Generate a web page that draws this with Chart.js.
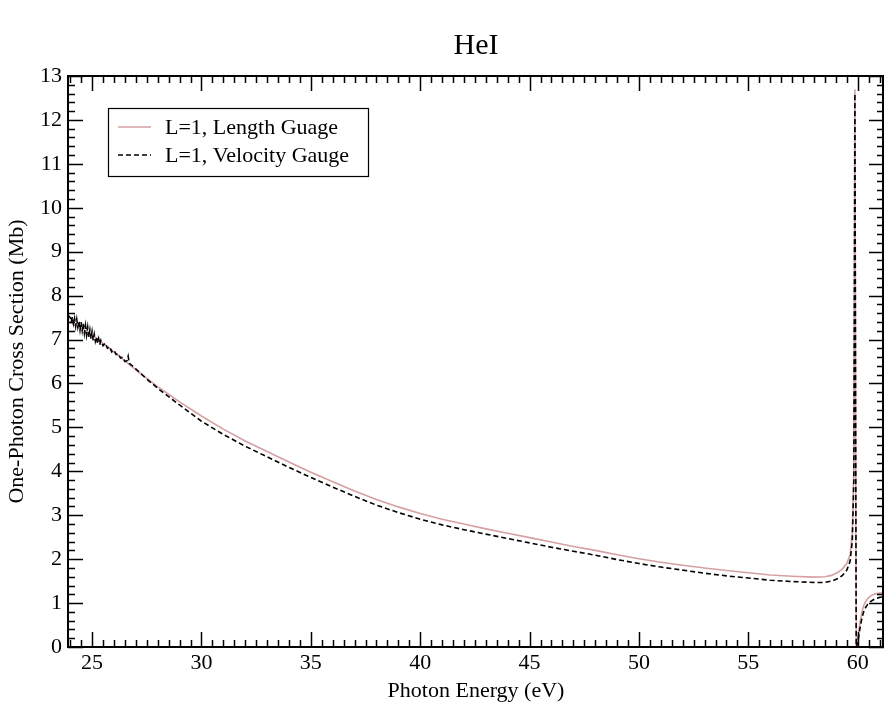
<!DOCTYPE html>
<html>
<head>
<meta charset="utf-8">
<script src="https://cdn.jsdelivr.net/npm/chart.js@4.4.1/dist/chart.umd.min.js"></script>
<style>
    body { margin: 0; background: #fff; }
</style>
</head>
<body>
<canvas id="myChart" width="884" height="704"></canvas>
<script>
// tick labels
const xTicks = [25, 30, 35, 40, 45, 50, 55, 60];
const yTicks = [0, 1, 2, 3, 4, 5, 6, 7, 8, 9, 10, 11, 12, 13];
const chartTitle = 'HeI';

// L=1, Length Guage
const lengthEnergy = [23.9, 24.5, 25, 26, 27, 28, 29, 30, 31, 32, 33, 34, 35, 36, 37, 38, 39, 40,
    41, 42, 43, 44, 45, 46, 47, 48, 49, 50, 51, 52, 53, 54, 55, 56, 57, 58, 58.5, 58.8, 59.1,
    59.3, 59.5, 59.65, 59.75, 59.82, 59.87, 59.9, 59.93, 60.0, 60.1, 60.2, 60.3, 60.45, 60.6,
    60.8, 61.0, 61.2];
const lengthSigma = [7.42, 7.26, 7.11, 6.72, 6.31, 5.93, 5.58, 5.26, 4.96, 4.69, 4.45, 4.21, 3.98,
    3.76, 3.55, 3.36, 3.19, 3.04, 2.91, 2.80, 2.69, 2.59, 2.49, 2.39, 2.29, 2.20, 2.10, 2.01,
    1.93, 1.86, 1.80, 1.74, 1.69, 1.64, 1.61, 1.59, 1.60, 1.63, 1.70, 1.78, 1.90, 2.10, 2.60,
    4.00, 12.70, 6.00, 0.00, 0.20, 0.55, 0.82, 0.98, 1.10, 1.17, 1.21, 1.23, 1.24];

// L=1, Velocity Gauge
const velocityEnergy = [23.9, 24.0, 24.05, 24.1, 24.15, 24.2, 24.25, 24.3, 24.35, 24.4, 24.45,
    24.5, 24.55, 24.6, 24.65, 24.7, 24.75, 24.8, 24.85, 24.9, 24.95, 25.0, 25.05, 25.1, 25.15,
    25.2, 25.25, 25.3, 25.35, 25.4, 25.5, 25.6, 25.7, 25.8, 25.9, 26.0, 26.1, 26.2, 26.3, 26.4,
    26.5, 26.6, 26.65, 26.7, 26.8, 27.0, 27.5, 28, 29, 30, 31, 32, 33, 34, 35, 36, 37, 38, 39,
    40, 41, 42, 43, 44, 45, 46, 47, 48, 49, 50, 51, 52, 53, 54, 55, 56, 57, 58, 58.5, 58.8,
    59.1, 59.3, 59.5, 59.65, 59.75, 59.82, 59.87, 59.9, 59.93, 60.0, 60.1, 60.2, 60.3, 60.45,
    60.6, 60.8, 61.0, 61.2];
const velocitySigma = [7.56, 7.50, 7.40, 7.52, 7.36, 7.48, 7.30, 7.46, 7.28, 7.42, 7.22, 7.40,
    7.20, 7.36, 7.14, 7.32, 7.10, 7.28, 7.06, 7.22, 7.02, 7.18, 6.98, 7.12, 6.96, 7.06, 6.92,
    7.02, 6.88, 6.98, 6.86, 6.92, 6.80, 6.84, 6.72, 6.76, 6.66, 6.68, 6.58, 6.60, 6.50, 6.52,
    6.62, 6.46, 6.42, 6.33, 6.10, 5.89, 5.51, 5.14, 4.84, 4.57, 4.33, 4.09, 3.86, 3.64, 3.43,
    3.23, 3.06, 2.91, 2.78, 2.67, 2.57, 2.47, 2.37, 2.27, 2.18, 2.09, 1.99, 1.90, 1.82, 1.75,
    1.68, 1.62, 1.57, 1.52, 1.49, 1.47, 1.47, 1.50, 1.56, 1.63, 1.75, 1.95, 2.40, 3.80, 12.60,
    6.00, 0.00, 0.10, 0.42, 0.68, 0.85, 0.97, 1.04, 1.10, 1.13, 1.15];

const serif = "'Liberation Serif', 'DejaVu Serif', serif";
const pink = 'rgb(214, 160, 162)';

function toPoints(xs, ys) {
    return xs.map((x, i) => ({x: x, y: ys[i]}));
}

// title, frame, inward ticks (major + minor, mirrored) and legend inside the plot
const framePlugin = {
    id: 'frame',
    afterDatasetsDraw(chart) {
        const c = chart.ctx;
        const a = chart.chartArea;
        const xs = chart.scales.x;
        const ys = chart.scales.y;
        c.save();
        c.fillStyle = '#000';
        c.font = '30px ' + serif;
        c.textAlign = 'center';
        c.textBaseline = 'middle';
        c.fillText(chartTitle, (a.left + a.right) / 2, 46);

        c.strokeStyle = '#000';
        c.lineWidth = 1.5;
        c.beginPath();
        // x ticks
        for (let v = 24; v <= 61.01; v += 0.5) {
            const px = Math.round(xs.getPixelForValue(v)) + 0.5;
            const len = (Math.abs(v % 5) < 1e-6) ? 15 : 7;
            c.moveTo(px, a.bottom); c.lineTo(px, a.bottom - len);
            c.moveTo(px, a.top); c.lineTo(px, a.top + len);
        }
        // y ticks
        for (let k = 0; k <= 65; k++) {
            const v = k * 0.2;
            const py = Math.round(ys.getPixelForValue(v)) + 0.5;
            const len = (k % 5 === 0) ? 15 : 7;
            c.moveTo(a.left, py); c.lineTo(a.left + len, py);
            c.moveTo(a.right, py); c.lineTo(a.right - len, py);
        }
        c.stroke();
        c.lineWidth = 2;
        c.strokeRect(a.left, a.top, a.right - a.left - 1, a.bottom - a.top);

        // legend box
        const lx = 108, ly = 108, lw = 260, lh = 68;
        c.fillStyle = '#fff';
        c.fillRect(lx, ly, lw, lh);
        c.lineWidth = 1.2;
        c.strokeRect(lx + 0.5, ly + 0.5, lw, lh);
        const items = chart.data.datasets;
        const rows = [127, 155];
        c.font = '22px ' + serif;
        c.textBaseline = 'middle';
        c.textAlign = 'left';
        [1, 0].forEach((di, r) => {
            const ds = items[di];
            c.strokeStyle = ds.borderColor;
            c.lineWidth = ds.borderWidth;
            c.setLineDash(ds.borderDash || []);
            c.beginPath();
            c.moveTo(118, rows[r]); c.lineTo(151, rows[r]);
            c.stroke();
            c.setLineDash([]);
            c.fillStyle = '#000';
            c.fillText(ds.label, 165, rows[r] + 1);
        });
        c.restore();
    }
};

const ctx = document.getElementById('myChart').getContext('2d');
const myChart = new Chart(ctx, {
    type: 'line',
    data: {
        datasets: [
            {
                label: 'L=1, Velocity Gauge',
                data: toPoints(velocityEnergy, velocitySigma),
                borderColor: '#000',
                borderWidth: 1.6,
                borderDash: [5, 3],
                pointRadius: 0,
                tension: 0,
                order: 0
            },
            {
                label: 'L=1, Length Guage',
                data: toPoints(lengthEnergy, lengthSigma),
                borderColor: pink,
                borderWidth: 1.6,
                pointRadius: 0,
                tension: 0,
                order: 1
            }
        ]
    },
    options: {
        responsive: false,
        animation: false,
        layout: { padding: { top: 76, right: 0, bottom: 0, left: 0 } },
        plugins: {
            title: { display: false },
            legend: { display: false },
            tooltip: { enabled: false }
        },
        scales: {
            x: {
                type: 'linear',
                min: 23.9,
                max: 61.2,
                grid: { display: false, drawTicks: false },
                border: { display: false },
                afterBuildTicks: (scale) => {
                    scale.ticks = xTicks.map(v => ({value: v}));
                },
                afterFit: (scale) => { scale.height = 57; },
                ticks: {
                    color: '#000',
                    padding: 3,
                    maxRotation: 0,
                    font: { family: serif, size: 22 }
                },
                title: {
                    display: true,
                    text: 'Photon Energy (eV)',
                    color: '#000',
                    font: { family: serif, size: 22 },
                    padding: { top: 0, bottom: 0 }
                }
            },
            y: {
                type: 'linear',
                min: 0,
                max: 13,
                grid: { display: false, drawTicks: false },
                border: { display: false },
                afterBuildTicks: (scale) => {
                    scale.ticks = yTicks.map(v => ({value: v}));
                },
                afterFit: (scale) => { scale.width = 68; },
                ticks: {
                    color: '#000',
                    padding: 6,
                    font: { family: serif, size: 22 }
                },
                title: {
                    display: true,
                    text: 'One-Photon Cross Section (Mb)',
                    color: '#000',
                    font: { family: serif, size: 22 },
                    padding: { top: 4, bottom: 0 }
                }
            }
        }
    },
    plugins: [framePlugin]
});
</script>
</body>
</html>
